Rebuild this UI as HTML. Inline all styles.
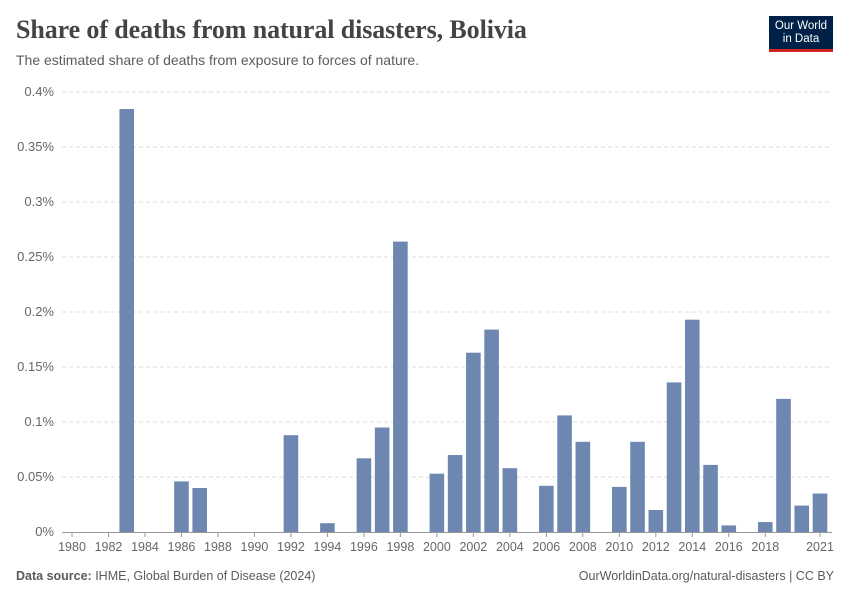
<!DOCTYPE html>
<html><head><meta charset="utf-8"><style>
body{margin:0;background:#fff;font-family:"Liberation Sans",sans-serif;}
#wrap{position:relative;width:850px;height:600px;overflow:hidden;}
h1{position:absolute;left:16px;top:15px;margin:0;font-family:"Liberation Serif",serif;font-size:26px;font-weight:bold;color:#444;letter-spacing:-0.1px;}
.sub{position:absolute;left:16px;top:52px;font-size:14px;color:#5b5b5b;}
.logo{position:absolute;left:769px;top:16px;width:64px;height:36px;background:#002147;color:#fff;font-size:11.5px;line-height:13px;text-align:center;padding-top:4px;box-sizing:border-box;border-bottom:3px solid #ce261e;}
.foot{position:absolute;top:569px;font-size:12.5px;color:#5b5b5b;}
</style></head><body><div id="wrap">
<h1>Share of deaths from natural disasters, Bolivia</h1>
<div class="sub">The estimated share of deaths from exposure to forces of nature.</div>
<div class="logo">Our World<br>in Data</div>
<svg id="chart" width="850" height="600" style="position:absolute;left:0;top:0"></svg>
<div class="foot" style="left:16px"><b>Data source:</b> IHME, Global Burden of Disease (2024)</div>
<div class="foot" style="right:16px">OurWorldinData.org/natural-disasters | CC BY</div>
</div>
<script>
const years=[1983,1986,1987,1992,1994,1996,1997,1998,2000,2001,2002,2003,2004,2006,2007,2008,2010,2011,2012,2013,2014,2015,2016,2018,2019,2020,2021];
const values=[0.3845,0.046,0.040,0.088,0.008,0.067,0.095,0.264,0.053,0.070,0.163,0.184,0.058,0.042,0.106,0.082,0.041,0.082,0.020,0.136,0.193,0.061,0.006,0.009,0.121,0.024,0.035];
const yTicks=[0,0.05,0.1,0.15,0.2,0.25,0.3,0.35,0.4];
const yTickLabels=["0%","0.05%","0.1%","0.15%","0.2%","0.25%","0.3%","0.35%","0.4%"];
const xTicks=[1980,1982,1984,1986,1988,1990,1992,1994,1996,1998,2000,2002,2004,2006,2008,2010,2012,2014,2016,2018,2021];
const svg=document.getElementById('chart');const NS='http://www.w3.org/2000/svg';
const x=y=>72+(y-1980)*(820-72)/41;
const yS=v=>532-v*1100;
function mk(t,a,p){const e=document.createElementNS(NS,t);for(const k in a)e.setAttribute(k,a[k]);(p||svg).appendChild(e);return e;}
yTicks.forEach((t,i)=>{
 if(t>0){const l=mk('line',{x1:62,x2:832,y1:yS(t),y2:yS(t),stroke:'#ddd','stroke-dasharray':'4,3'});
 
 }
 const tx=mk('text',{x:54,y:yS(t)+4,'text-anchor':'end','font-size':13,fill:'#666','font-family':'Liberation Sans'});tx.textContent=yTickLabels[i];
 
 
});
years.forEach((yr,i)=>{
 const r=mk('rect',{x:x(yr)-7.3,y:yS(values[i]),width:14.6,height:values[i]*1100,fill:'#6d87b0'});
 
 
});
const ax=mk('line',{x1:62,x2:832,y1:532.5,y2:532.5,stroke:'#999'});


xTicks.forEach(t=>{
 const tk=mk('line',{x1:x(t),x2:x(t),y1:532,y2:537,stroke:'#999'});
 
 
 const tx=mk('text',{x:x(t),y:551,'text-anchor':'middle','font-size':12.5,fill:'#666','font-family':'Liberation Sans'});tx.textContent=t;
 
 
});
</script></body></html>
